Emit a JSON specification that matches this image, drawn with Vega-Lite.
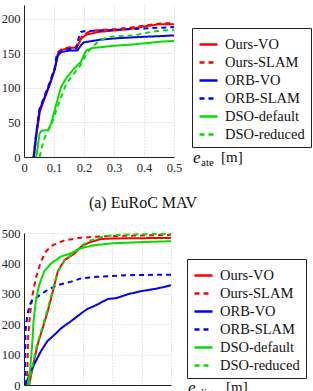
{
  "$schema": "https://vega.github.io/schema/vega-lite/v6.json",
  "padding": {"left": 1, "top": 5, "right": 2, "bottom": 0},
  "config": {"view": {"stroke": null}},
  "datasets": {
    "ate": [
      {"method": "Ours-VO", "x": 0.033, "y": 0}, {"method": "Ours-VO", "x": 0.042, "y": 34}, {"method": "Ours-VO", "x": 0.053, "y": 66}, {"method": "Ours-VO", "x": 0.07, "y": 86}, {"method": "Ours-VO", "x": 0.087, "y": 106}, {"method": "Ours-VO", "x": 0.102, "y": 127}, {"method": "Ours-VO", "x": 0.113, "y": 150}, {"method": "Ours-VO", "x": 0.125, "y": 155}, {"method": "Ours-VO", "x": 0.152, "y": 158}, {"method": "Ours-VO", "x": 0.17, "y": 158}, {"method": "Ours-VO", "x": 0.18, "y": 162}, {"method": "Ours-VO", "x": 0.19, "y": 171}, {"method": "Ours-VO", "x": 0.207, "y": 177}, {"method": "Ours-VO", "x": 0.247, "y": 181}, {"method": "Ours-VO", "x": 0.3, "y": 183}, {"method": "Ours-VO", "x": 0.35, "y": 185}, {"method": "Ours-VO", "x": 0.4, "y": 189}, {"method": "Ours-VO", "x": 0.45, "y": 192}, {"method": "Ours-VO", "x": 0.5, "y": 192},
      {"method": "Ours-SLAM", "x": 0.033, "y": 0}, {"method": "Ours-SLAM", "x": 0.042, "y": 36}, {"method": "Ours-SLAM", "x": 0.053, "y": 68}, {"method": "Ours-SLAM", "x": 0.07, "y": 88}, {"method": "Ours-SLAM", "x": 0.087, "y": 108}, {"method": "Ours-SLAM", "x": 0.102, "y": 128}, {"method": "Ours-SLAM", "x": 0.112, "y": 151}, {"method": "Ours-SLAM", "x": 0.125, "y": 156}, {"method": "Ours-SLAM", "x": 0.152, "y": 159}, {"method": "Ours-SLAM", "x": 0.172, "y": 159}, {"method": "Ours-SLAM", "x": 0.182, "y": 166}, {"method": "Ours-SLAM", "x": 0.195, "y": 176}, {"method": "Ours-SLAM", "x": 0.22, "y": 182}, {"method": "Ours-SLAM", "x": 0.25, "y": 184}, {"method": "Ours-SLAM", "x": 0.3, "y": 185}, {"method": "Ours-SLAM", "x": 0.35, "y": 187}, {"method": "Ours-SLAM", "x": 0.4, "y": 190}, {"method": "Ours-SLAM", "x": 0.45, "y": 193}, {"method": "Ours-SLAM", "x": 0.5, "y": 194},
      {"method": "ORB-VO", "x": 0.032, "y": 0}, {"method": "ORB-VO", "x": 0.041, "y": 34}, {"method": "ORB-VO", "x": 0.052, "y": 68}, {"method": "ORB-VO", "x": 0.069, "y": 87}, {"method": "ORB-VO", "x": 0.086, "y": 106}, {"method": "ORB-VO", "x": 0.102, "y": 126}, {"method": "ORB-VO", "x": 0.113, "y": 147}, {"method": "ORB-VO", "x": 0.124, "y": 152}, {"method": "ORB-VO", "x": 0.152, "y": 154}, {"method": "ORB-VO", "x": 0.178, "y": 154}, {"method": "ORB-VO", "x": 0.19, "y": 162}, {"method": "ORB-VO", "x": 0.2, "y": 166}, {"method": "ORB-VO", "x": 0.257, "y": 170}, {"method": "ORB-VO", "x": 0.313, "y": 172}, {"method": "ORB-VO", "x": 0.4, "y": 174}, {"method": "ORB-VO", "x": 0.457, "y": 175}, {"method": "ORB-VO", "x": 0.5, "y": 176},
      {"method": "ORB-SLAM", "x": 0.032, "y": 0}, {"method": "ORB-SLAM", "x": 0.041, "y": 36}, {"method": "ORB-SLAM", "x": 0.052, "y": 70}, {"method": "ORB-SLAM", "x": 0.069, "y": 89}, {"method": "ORB-SLAM", "x": 0.086, "y": 108}, {"method": "ORB-SLAM", "x": 0.102, "y": 128}, {"method": "ORB-SLAM", "x": 0.11, "y": 150}, {"method": "ORB-SLAM", "x": 0.125, "y": 153}, {"method": "ORB-SLAM", "x": 0.146, "y": 156}, {"method": "ORB-SLAM", "x": 0.175, "y": 157}, {"method": "ORB-SLAM", "x": 0.182, "y": 172}, {"method": "ORB-SLAM", "x": 0.19, "y": 181}, {"method": "ORB-SLAM", "x": 0.2, "y": 182}, {"method": "ORB-SLAM", "x": 0.3, "y": 184}, {"method": "ORB-SLAM", "x": 0.4, "y": 186}, {"method": "ORB-SLAM", "x": 0.5, "y": 188},
      {"method": "DSO-default", "x": 0.041, "y": 0}, {"method": "DSO-default", "x": 0.052, "y": 34}, {"method": "DSO-default", "x": 0.058, "y": 38}, {"method": "DSO-default", "x": 0.08, "y": 39}, {"method": "DSO-default", "x": 0.091, "y": 49}, {"method": "DSO-default", "x": 0.108, "y": 77}, {"method": "DSO-default", "x": 0.124, "y": 102}, {"method": "DSO-default", "x": 0.141, "y": 114}, {"method": "DSO-default", "x": 0.163, "y": 126}, {"method": "DSO-default", "x": 0.183, "y": 135}, {"method": "DSO-default", "x": 0.19, "y": 138}, {"method": "DSO-default", "x": 0.2, "y": 148}, {"method": "DSO-default", "x": 0.207, "y": 154}, {"method": "DSO-default", "x": 0.23, "y": 158}, {"method": "DSO-default", "x": 0.257, "y": 159}, {"method": "DSO-default", "x": 0.3, "y": 161}, {"method": "DSO-default", "x": 0.367, "y": 163}, {"method": "DSO-default", "x": 0.457, "y": 167}, {"method": "DSO-default", "x": 0.5, "y": 168},
      {"method": "DSO-reduced", "x": 0.052, "y": 0}, {"method": "DSO-reduced", "x": 0.063, "y": 20}, {"method": "DSO-reduced", "x": 0.074, "y": 34}, {"method": "DSO-reduced", "x": 0.09, "y": 45}, {"method": "DSO-reduced", "x": 0.108, "y": 68}, {"method": "DSO-reduced", "x": 0.124, "y": 87}, {"method": "DSO-reduced", "x": 0.141, "y": 106}, {"method": "DSO-reduced", "x": 0.158, "y": 116}, {"method": "DSO-reduced", "x": 0.18, "y": 128}, {"method": "DSO-reduced", "x": 0.195, "y": 137}, {"method": "DSO-reduced", "x": 0.207, "y": 149}, {"method": "DSO-reduced", "x": 0.225, "y": 158}, {"method": "DSO-reduced", "x": 0.247, "y": 167}, {"method": "DSO-reduced", "x": 0.28, "y": 174}, {"method": "DSO-reduced", "x": 0.367, "y": 176}, {"method": "DSO-reduced", "x": 0.41, "y": 180}, {"method": "DSO-reduced", "x": 0.457, "y": 183}, {"method": "DSO-reduced", "x": 0.5, "y": 184}
    ],
    "align": [
      {"method": "Ours-VO", "x": 0.35, "y": 0}, {"method": "Ours-VO", "x": 0.58, "y": 56}, {"method": "Ours-VO", "x": 0.92, "y": 132}, {"method": "Ours-VO", "x": 1.27, "y": 187}, {"method": "Ours-VO", "x": 1.61, "y": 242}, {"method": "Ours-VO", "x": 1.96, "y": 308}, {"method": "Ours-VO", "x": 2.3, "y": 374}, {"method": "Ours-VO", "x": 2.76, "y": 411}, {"method": "Ours-VO", "x": 3.45, "y": 433}, {"method": "Ours-VO", "x": 3.9, "y": 456}, {"method": "Ours-VO", "x": 4.4, "y": 468}, {"method": "Ours-VO", "x": 5.2, "y": 480}, {"method": "Ours-VO", "x": 6, "y": 482}, {"method": "Ours-VO", "x": 8, "y": 483}, {"method": "Ours-VO", "x": 10, "y": 484},
      {"method": "Ours-SLAM", "x": 0.15, "y": 0}, {"method": "Ours-SLAM", "x": 0.23, "y": 45}, {"method": "Ours-SLAM", "x": 0.28, "y": 155}, {"method": "Ours-SLAM", "x": 0.41, "y": 231}, {"method": "Ours-SLAM", "x": 0.58, "y": 296}, {"method": "Ours-SLAM", "x": 0.8, "y": 351}, {"method": "Ours-SLAM", "x": 1.15, "y": 406}, {"method": "Ours-SLAM", "x": 1.5, "y": 440}, {"method": "Ours-SLAM", "x": 1.96, "y": 460}, {"method": "Ours-SLAM", "x": 2.76, "y": 476}, {"method": "Ours-SLAM", "x": 3.8, "y": 484}, {"method": "Ours-SLAM", "x": 5, "y": 488}, {"method": "Ours-SLAM", "x": 6, "y": 490}, {"method": "Ours-SLAM", "x": 8, "y": 492}, {"method": "Ours-SLAM", "x": 10, "y": 494},
      {"method": "ORB-VO", "x": 0.1, "y": 0}, {"method": "ORB-VO", "x": 0.46, "y": 45}, {"method": "ORB-VO", "x": 0.8, "y": 78}, {"method": "ORB-VO", "x": 1.15, "y": 111}, {"method": "ORB-VO", "x": 1.6, "y": 145}, {"method": "ORB-VO", "x": 2.07, "y": 165}, {"method": "ORB-VO", "x": 2.53, "y": 187}, {"method": "ORB-VO", "x": 3.2, "y": 210}, {"method": "ORB-VO", "x": 3.9, "y": 236}, {"method": "ORB-VO", "x": 4.3, "y": 250}, {"method": "ORB-VO", "x": 4.8, "y": 260}, {"method": "ORB-VO", "x": 5.7, "y": 283}, {"method": "ORB-VO", "x": 6.3, "y": 286}, {"method": "ORB-VO", "x": 7.1, "y": 299}, {"method": "ORB-VO", "x": 8, "y": 309}, {"method": "ORB-VO", "x": 8.9, "y": 316}, {"method": "ORB-VO", "x": 9.5, "y": 322}, {"method": "ORB-VO", "x": 10, "y": 328},
      {"method": "ORB-SLAM", "x": 0.05, "y": 0}, {"method": "ORB-SLAM", "x": 0.08, "y": 90}, {"method": "ORB-SLAM", "x": 0.1, "y": 177}, {"method": "ORB-SLAM", "x": 0.23, "y": 231}, {"method": "ORB-SLAM", "x": 0.4, "y": 265}, {"method": "ORB-SLAM", "x": 0.58, "y": 280}, {"method": "ORB-SLAM", "x": 0.92, "y": 290}, {"method": "ORB-SLAM", "x": 1.6, "y": 313}, {"method": "ORB-SLAM", "x": 2.3, "y": 329}, {"method": "ORB-SLAM", "x": 3.2, "y": 340}, {"method": "ORB-SLAM", "x": 3.9, "y": 351}, {"method": "ORB-SLAM", "x": 5, "y": 356}, {"method": "ORB-SLAM", "x": 6.9, "y": 361}, {"method": "ORB-SLAM", "x": 8, "y": 362}, {"method": "ORB-SLAM", "x": 10, "y": 363},
      {"method": "DSO-default", "x": 0.25, "y": 0}, {"method": "DSO-default", "x": 0.4, "y": 40}, {"method": "DSO-default", "x": 0.5, "y": 100}, {"method": "DSO-default", "x": 0.58, "y": 150}, {"method": "DSO-default", "x": 0.65, "y": 210}, {"method": "DSO-default", "x": 0.8, "y": 275}, {"method": "DSO-default", "x": 1.03, "y": 329}, {"method": "DSO-default", "x": 1.38, "y": 374}, {"method": "DSO-default", "x": 1.84, "y": 400}, {"method": "DSO-default", "x": 2.53, "y": 423}, {"method": "DSO-default", "x": 3.2, "y": 433}, {"method": "DSO-default", "x": 3.8, "y": 449}, {"method": "DSO-default", "x": 4.8, "y": 460}, {"method": "DSO-default", "x": 6, "y": 466}, {"method": "DSO-default", "x": 8, "y": 470}, {"method": "DSO-default", "x": 10, "y": 473},
      {"method": "DSO-reduced", "x": 0.3, "y": 0}, {"method": "DSO-reduced", "x": 0.55, "y": 56}, {"method": "DSO-reduced", "x": 0.9, "y": 135}, {"method": "DSO-reduced", "x": 1.25, "y": 190}, {"method": "DSO-reduced", "x": 1.6, "y": 248}, {"method": "DSO-reduced", "x": 1.95, "y": 312}, {"method": "DSO-reduced", "x": 2.3, "y": 372}, {"method": "DSO-reduced", "x": 2.76, "y": 410}, {"method": "DSO-reduced", "x": 3.45, "y": 438}, {"method": "DSO-reduced", "x": 3.9, "y": 458}, {"method": "DSO-reduced", "x": 4.5, "y": 475}, {"method": "DSO-reduced", "x": 5.5, "y": 490}, {"method": "DSO-reduced", "x": 6.5, "y": 494}, {"method": "DSO-reduced", "x": 8, "y": 496}, {"method": "DSO-reduced", "x": 10, "y": 497}
    ]
  },
  "spacing": 16,
  "resolve": {
    "scale": {"x": "independent", "y": "independent", "color": "independent", "strokeDash": "independent"},
    "legend": {"color": "independent", "strokeDash": "independent"}
  },
  "vconcat": [
    {
      "width": 150,
      "height": 152,
      "title": {"text": "(a) EuRoC MAV", "orient": "bottom", "frame": "group", "anchor": "middle", "font": "Liberation Serif", "fontSize": 16, "fontWeight": "normal", "color": "#111111", "offset": 21, "dx": 44},
      "layer": [
        {
          "data": {"name": "ate"},
          "mark": {"type": "line", "strokeWidth": 2, "clip": true},
          "encoding": {
            "x": {"field": "x", "type": "quantitative", "scale": {"domain": [0, 0.5], "nice": false},
              "axis": {"values": [0, 0.1, 0.2, 0.3, 0.4, 0.5], "format": "~g", "title": null, "labelFont": "Liberation Serif", "labelFontSize": 12.5, "labelColor": "#222222", "labelOverlap": false, "labelSeparation": 0, "labelFlush": false, "labelPadding": 4, "ticks": false, "domainColor": "#222222", "grid": true, "gridColor": "#cfcfcf", "gridDash": [1, 2]}},
            "y": {"field": "y", "type": "quantitative", "scale": {"domain": [0, 220], "nice": false},
              "axis": {"values": [0, 50, 100, 150, 200], "title": null, "labelFont": "Liberation Serif", "labelFontSize": 12.5, "labelColor": "#222222", "labelOverlap": false, "labelSeparation": 0, "labelFlush": false, "labelPadding": 4, "ticks": false, "domainColor": "#222222", "grid": true, "gridColor": "#cfcfcf", "gridDash": [1, 2]}},
            "color": {"field": "method", "type": "nominal",
              "scale": {"domain": ["Ours-VO", "Ours-SLAM", "ORB-VO", "ORB-SLAM", "DSO-default", "DSO-reduced"], "range": ["#ff0000", "#ff0000", "#0000ff", "#0000ff", "#00e000", "#00e000"]},
              "legend": {"orient": "none", "legendX": 168, "legendY": 23, "title": null, "strokeColor": "#222222", "fillColor": "#ffffff", "padding": 6, "symbolType": "stroke", "symbolSize": 324, "symbolStrokeWidth": 2.5, "labelFont": "Liberation Serif", "labelFontSize": 14.5, "labelColor": "#111111", "labelOffset": 6, "rowPadding": 1}},
            "strokeDash": {"field": "method", "type": "nominal",
              "scale": {"domain": ["Ours-VO", "Ours-SLAM", "ORB-VO", "ORB-SLAM", "DSO-default", "DSO-reduced"], "range": [[1, 0], [5, 4], [1, 0], [5, 4], [1, 0], [5, 4]]},
              "legend": {"orient": "none", "legendX": 168, "legendY": 23, "title": null, "strokeColor": "#222222", "fillColor": "#ffffff", "padding": 6, "symbolType": "stroke", "symbolSize": 324, "symbolStrokeWidth": 2.5, "labelFont": "Liberation Serif", "labelFontSize": 14.5, "labelColor": "#111111", "labelOffset": 6, "rowPadding": 1}}
          }
        },
        {
          "data": {"values": [{}]},
          "mark": {"type": "text", "text": "e", "font": "Liberation Serif", "fontStyle": "italic", "fontSize": 17, "color": "#111111", "align": "left", "baseline": "alphabetic", "dx": 19, "dy": 6},
          "encoding": {
            "x": {"datum": 0.5, "type": "quantitative", "axis": {"values": [0, 0.1, 0.2, 0.3, 0.4, 0.5], "format": "~g", "title": null, "labelFont": "Liberation Serif", "labelFontSize": 12.5, "labelColor": "#222222", "labelOverlap": false, "labelSeparation": 0, "labelFlush": false, "labelPadding": 4, "ticks": false, "domainColor": "#222222", "grid": true, "gridColor": "#cfcfcf", "gridDash": [1, 2]}},
            "y": {"datum": 0, "type": "quantitative", "axis": {"values": [0, 50, 100, 150, 200], "title": null, "labelFont": "Liberation Serif", "labelFontSize": 12.5, "labelColor": "#222222", "labelOverlap": false, "labelSeparation": 0, "labelFlush": false, "labelPadding": 4, "ticks": false, "domainColor": "#222222", "grid": true, "gridColor": "#cfcfcf", "gridDash": [1, 2]}}
          }
        },
        {
          "data": {"values": [{}]},
          "mark": {"type": "text", "text": "ate", "font": "Liberation Serif", "fontSize": 11, "color": "#111111", "align": "left", "baseline": "alphabetic", "dx": 27, "dy": 9},
          "encoding": {
            "x": {"datum": 0.5, "type": "quantitative", "axis": {"values": [0, 0.1, 0.2, 0.3, 0.4, 0.5], "format": "~g", "title": null, "labelFont": "Liberation Serif", "labelFontSize": 12.5, "labelColor": "#222222", "labelOverlap": false, "labelSeparation": 0, "labelFlush": false, "labelPadding": 4, "ticks": false, "domainColor": "#222222", "grid": true, "gridColor": "#cfcfcf", "gridDash": [1, 2]}},
            "y": {"datum": 0, "type": "quantitative", "axis": {"values": [0, 50, 100, 150, 200], "title": null, "labelFont": "Liberation Serif", "labelFontSize": 12.5, "labelColor": "#222222", "labelOverlap": false, "labelSeparation": 0, "labelFlush": false, "labelPadding": 4, "ticks": false, "domainColor": "#222222", "grid": true, "gridColor": "#cfcfcf", "gridDash": [1, 2]}}
          }
        },
        {
          "data": {"values": [{}]},
          "mark": {"type": "text", "text": "[m]", "font": "Liberation Serif", "fontSize": 15, "color": "#111111", "align": "left", "baseline": "alphabetic", "dx": 47, "dy": 5},
          "encoding": {
            "x": {"datum": 0.5, "type": "quantitative", "axis": {"values": [0, 0.1, 0.2, 0.3, 0.4, 0.5], "format": "~g", "title": null, "labelFont": "Liberation Serif", "labelFontSize": 12.5, "labelColor": "#222222", "labelOverlap": false, "labelSeparation": 0, "labelFlush": false, "labelPadding": 4, "ticks": false, "domainColor": "#222222", "grid": true, "gridColor": "#cfcfcf", "gridDash": [1, 2]}},
            "y": {"datum": 0, "type": "quantitative", "axis": {"values": [0, 50, 100, 150, 200], "title": null, "labelFont": "Liberation Serif", "labelFontSize": 12.5, "labelColor": "#222222", "labelOverlap": false, "labelSeparation": 0, "labelFlush": false, "labelPadding": 4, "ticks": false, "domainColor": "#222222", "grid": true, "gridColor": "#cfcfcf", "gridDash": [1, 2]}}
          }
        }
      ]
    },
    {
      "width": 147,
      "height": 152,
      "layer": [
        {
          "data": {"name": "align"},
          "mark": {"type": "line", "strokeWidth": 2, "clip": true},
          "encoding": {
            "x": {"field": "x", "type": "quantitative", "scale": {"domain": [0, 10], "nice": false},
              "axis": {"values": [0, 2, 4, 6, 8, 10], "title": null, "labelFont": "Liberation Serif", "labelFontSize": 12.5, "labelColor": "#222222", "labelOverlap": false, "labelSeparation": 0, "labelFlush": false, "labelPadding": 4, "ticks": false, "domainColor": "#222222", "grid": true, "gridColor": "#cfcfcf", "gridDash": [1, 2]}},
            "y": {"field": "y", "type": "quantitative", "scale": {"domain": [0, 500], "nice": false},
              "axis": {"values": [0, 100, 200, 300, 400, 500], "title": null, "labelFont": "Liberation Serif", "labelFontSize": 12.5, "labelColor": "#222222", "labelOverlap": false, "labelSeparation": 0, "labelFlush": false, "labelPadding": 4, "ticks": false, "domainColor": "#222222", "grid": true, "gridColor": "#cfcfcf", "gridDash": [1, 2]}},
            "color": {"field": "method", "type": "nominal",
              "scale": {"domain": ["Ours-VO", "Ours-SLAM", "ORB-VO", "ORB-SLAM", "DSO-default", "DSO-reduced"], "range": ["#ff0000", "#ff0000", "#0000ff", "#0000ff", "#00e000", "#00e000"]},
              "legend": {"orient": "none", "legendX": 163, "legendY": 26, "title": null, "strokeColor": "#222222", "fillColor": "#ffffff", "padding": 6, "symbolType": "stroke", "symbolSize": 324, "symbolStrokeWidth": 2.5, "labelFont": "Liberation Serif", "labelFontSize": 14.5, "labelColor": "#111111", "labelOffset": 6, "rowPadding": 1}},
            "strokeDash": {"field": "method", "type": "nominal",
              "scale": {"domain": ["Ours-VO", "Ours-SLAM", "ORB-VO", "ORB-SLAM", "DSO-default", "DSO-reduced"], "range": [[1, 0], [5, 4], [1, 0], [5, 4], [1, 0], [5, 4]]},
              "legend": {"orient": "none", "legendX": 163, "legendY": 26, "title": null, "strokeColor": "#222222", "fillColor": "#ffffff", "padding": 6, "symbolType": "stroke", "symbolSize": 324, "symbolStrokeWidth": 2.5, "labelFont": "Liberation Serif", "labelFontSize": 14.5, "labelColor": "#111111", "labelOffset": 6, "rowPadding": 1}}
          }
        },
        {
          "data": {"values": [{}]},
          "mark": {"type": "text", "text": "e", "font": "Liberation Serif", "fontStyle": "italic", "fontSize": 17, "color": "#111111", "align": "left", "baseline": "alphabetic", "dx": 17, "dy": 8},
          "encoding": {
            "x": {"datum": 10, "type": "quantitative", "axis": {"values": [0, 2, 4, 6, 8, 10], "title": null, "labelFont": "Liberation Serif", "labelFontSize": 12.5, "labelColor": "#222222", "labelOverlap": false, "labelSeparation": 0, "labelFlush": false, "labelPadding": 4, "ticks": false, "domainColor": "#222222", "grid": true, "gridColor": "#cfcfcf", "gridDash": [1, 2]}},
            "y": {"datum": 0, "type": "quantitative", "axis": {"values": [0, 100, 200, 300, 400, 500], "title": null, "labelFont": "Liberation Serif", "labelFontSize": 12.5, "labelColor": "#222222", "labelOverlap": false, "labelSeparation": 0, "labelFlush": false, "labelPadding": 4, "ticks": false, "domainColor": "#222222", "grid": true, "gridColor": "#cfcfcf", "gridDash": [1, 2]}}
          }
        },
        {
          "data": {"values": [{}]},
          "mark": {"type": "text", "text": "align", "font": "Liberation Serif", "fontSize": 11, "color": "#111111", "align": "left", "baseline": "alphabetic", "dx": 25, "dy": 11},
          "encoding": {
            "x": {"datum": 10, "type": "quantitative", "axis": {"values": [0, 2, 4, 6, 8, 10], "title": null, "labelFont": "Liberation Serif", "labelFontSize": 12.5, "labelColor": "#222222", "labelOverlap": false, "labelSeparation": 0, "labelFlush": false, "labelPadding": 4, "ticks": false, "domainColor": "#222222", "grid": true, "gridColor": "#cfcfcf", "gridDash": [1, 2]}},
            "y": {"datum": 0, "type": "quantitative", "axis": {"values": [0, 100, 200, 300, 400, 500], "title": null, "labelFont": "Liberation Serif", "labelFontSize": 12.5, "labelColor": "#222222", "labelOverlap": false, "labelSeparation": 0, "labelFlush": false, "labelPadding": 4, "ticks": false, "domainColor": "#222222", "grid": true, "gridColor": "#cfcfcf", "gridDash": [1, 2]}}
          }
        },
        {
          "data": {"values": [{}]},
          "mark": {"type": "text", "text": "[m]", "font": "Liberation Serif", "fontSize": 15, "color": "#111111", "align": "left", "baseline": "alphabetic", "dx": 55, "dy": 7},
          "encoding": {
            "x": {"datum": 10, "type": "quantitative", "axis": {"values": [0, 2, 4, 6, 8, 10], "title": null, "labelFont": "Liberation Serif", "labelFontSize": 12.5, "labelColor": "#222222", "labelOverlap": false, "labelSeparation": 0, "labelFlush": false, "labelPadding": 4, "ticks": false, "domainColor": "#222222", "grid": true, "gridColor": "#cfcfcf", "gridDash": [1, 2]}},
            "y": {"datum": 0, "type": "quantitative", "axis": {"values": [0, 100, 200, 300, 400, 500], "title": null, "labelFont": "Liberation Serif", "labelFontSize": 12.5, "labelColor": "#222222", "labelOverlap": false, "labelSeparation": 0, "labelFlush": false, "labelPadding": 4, "ticks": false, "domainColor": "#222222", "grid": true, "gridColor": "#cfcfcf", "gridDash": [1, 2]}}
          }
        }
      ]
    }
  ]
}
